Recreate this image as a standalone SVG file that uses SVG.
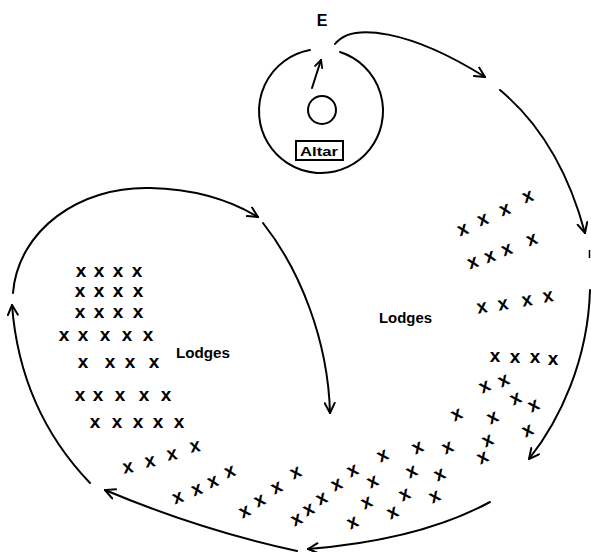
<svg xmlns="http://www.w3.org/2000/svg" width="591" height="552" viewBox="0 0 591 552">
<style>
.ln{fill:none;stroke:#000;stroke-width:2;stroke-linecap:round}
.lb{font-family:"Liberation Sans",Arial,sans-serif;font-weight:bold;fill:#000}
.m{font-family:"Liberation Sans",Arial,sans-serif;font-weight:bold;font-size:19px;fill:#000;text-anchor:middle}
</style>
<defs>
<marker id="ah" viewBox="0 0 12 12" refX="11" refY="6" markerWidth="12" markerHeight="12" orient="auto" markerUnits="userSpaceOnUse"><path d="M1,1 L11,6 L1,11" fill="none" stroke="#000" stroke-width="2" stroke-linecap="round" stroke-linejoin="miter"/></marker>
<marker id="ah2" viewBox="0 0 12 12" refX="11" refY="6" markerWidth="9" markerHeight="9" orient="auto" markerUnits="userSpaceOnUse"><path d="M1,1 L11,6 L1,11" fill="none" stroke="#000" stroke-width="2.4" stroke-linecap="round"/></marker>
</defs>
<rect width="591" height="552" fill="#fff"/>
<g id="temple">
<text class="lb" x="322" y="26" font-size="16" text-anchor="middle">E</text>
<path class="ln" d="M340,52 A62,62 0 1 1 310,50"/>
<circle cx="322" cy="110" r="14" class="ln"/>
<path class="ln" d="M312,88 L321,60" marker-end="url(#ah2)"/>
<rect x="296" y="141" width="47" height="19" fill="none" stroke="#000" stroke-width="2"/>
<text class="lb" x="300" y="155.5" font-size="13" textLength="38" lengthAdjust="spacingAndGlyphs">Altar</text>
</g>
<g id="connectors">
<path class="ln" d="M335,44 C352,22 410,30 485,77" marker-end="url(#ah)"/>
<path class="ln" d="M500,90 Q560,140 585,233" marker-end="url(#ah)"/>
<path class="ln" d="M590,290 C588,360 560,420 529,459" marker-end="url(#ah)"/>
<path class="ln" d="M490,502 Q420,540 308,549" marker-end="url(#ah)"/>
<path class="ln" d="M297,551 Q200,530 105,490" marker-end="url(#ah)"/>
<path class="ln" d="M90,483 Q20,410 12,305" marker-end="url(#ah)"/>
<path class="ln" d="M13,293 C18,230 80,186 150,188 C195,189 230,200 258,217" marker-end="url(#ah)"/>
<path class="ln" d="M263,223 C300,270 328,340 330,413" marker-end="url(#ah)"/>
<path d="M589.5,250 L589.5,258" stroke="#000" stroke-width="1.5"/>
</g>
<g id="lodges-left">
<text class="lb" x="176" y="358" font-size="14" textLength="54" lengthAdjust="spacingAndGlyphs">Lodges</text>
<text class="m" x="81" y="277">x</text><text class="m" x="99" y="277">x</text><text class="m" x="118" y="277">x</text><text class="m" x="137" y="277">x</text>
<text class="m" x="80" y="297">x</text><text class="m" x="99" y="297">x</text><text class="m" x="118" y="297">x</text><text class="m" x="138" y="297">x</text>
<text class="m" x="80" y="318">x</text><text class="m" x="99" y="318">x</text><text class="m" x="118" y="318">x</text><text class="m" x="138" y="318">x</text>
<text class="m" x="64" y="341">x</text><text class="m" x="83" y="341">x</text><text class="m" x="105" y="341">x</text><text class="m" x="127" y="341">x</text><text class="m" x="148" y="341">x</text>
<text class="m" x="83" y="368">x</text><text class="m" x="110" y="368">x</text><text class="m" x="130" y="368">x</text><text class="m" x="154" y="368">x</text>
<text class="m" x="80" y="401">x</text><text class="m" x="98" y="401">x</text><text class="m" x="120" y="401">x</text><text class="m" x="144" y="401">x</text><text class="m" x="166" y="401">x</text>
<text class="m" x="95" y="428">x</text><text class="m" x="117" y="428">x</text><text class="m" x="138" y="428">x</text><text class="m" x="158" y="428">x</text><text class="m" x="179" y="428">x</text>
<text class="m" x="128" y="473" transform="rotate(-10 128 468)">x</text><text class="m" x="150" y="467" transform="rotate(-10 150 462)">x</text><text class="m" x="172" y="460" transform="rotate(-10 172 455)">x</text><text class="m" x="195" y="452" transform="rotate(-10 195 447)">x</text>
<text class="m" x="178" y="503" transform="rotate(-20 178 498)">x</text><text class="m" x="197" y="495" transform="rotate(-20 197 490)">x</text><text class="m" x="213" y="487" transform="rotate(-20 213 482)">x</text><text class="m" x="230" y="477" transform="rotate(-20 230 472)">x</text>
<text class="m" x="245" y="517" transform="rotate(-25 245 512)">x</text><text class="m" x="260" y="506" transform="rotate(-25 260 501)">x</text><text class="m" x="277" y="493" transform="rotate(-25 277 488)">x</text><text class="m" x="296" y="478" transform="rotate(-25 296 473)">x</text>
<text class="m" x="297" y="525" transform="rotate(-25 297 520)">x</text><text class="m" x="309" y="515" transform="rotate(-25 309 510)">x</text><text class="m" x="322" y="504" transform="rotate(-25 322 499)">x</text><text class="m" x="337" y="490" transform="rotate(-25 337 485)">x</text><text class="m" x="353" y="476" transform="rotate(-25 353 471)">x</text>
</g>
<g id="lodges-right">
<text class="lb" x="379" y="323" font-size="14" textLength="53" lengthAdjust="spacingAndGlyphs">Lodges</text>
<text class="m" x="463" y="235" transform="rotate(-20 463 230)">x</text><text class="m" x="483" y="225" transform="rotate(-20 483 220)">x</text><text class="m" x="505" y="215" transform="rotate(-20 505 210)">x</text><text class="m" x="528" y="202" transform="rotate(-20 528 197)">x</text>
<text class="m" x="473" y="268" transform="rotate(-20 473 263)">x</text><text class="m" x="490" y="262" transform="rotate(-20 490 257)">x</text><text class="m" x="507" y="255" transform="rotate(-20 507 250)">x</text><text class="m" x="532" y="245" transform="rotate(-20 532 240)">x</text>
<text class="m" x="482" y="313" transform="rotate(-10 482 308)">x</text><text class="m" x="503" y="310" transform="rotate(-10 503 305)">x</text><text class="m" x="527" y="306" transform="rotate(-10 527 301)">x</text><text class="m" x="548" y="302" transform="rotate(-10 548 297)">x</text>
<text class="m" x="495" y="362">x</text><text class="m" x="515" y="363">x</text><text class="m" x="535" y="363">x</text><text class="m" x="553" y="365">x</text>
<text class="m" x="485" y="392" transform="rotate(-25 485 387)">x</text><text class="m" x="504" y="386" transform="rotate(-25 504 381)">x</text>
<text class="m" x="516" y="404" transform="rotate(-25 516 399)">x</text><text class="m" x="534" y="411" transform="rotate(-25 534 406)">x</text>
<text class="m" x="457" y="420" transform="rotate(-25 457 415)">x</text><text class="m" x="493" y="423" transform="rotate(-25 493 418)">x</text>
<text class="m" x="528" y="436" transform="rotate(-25 528 431)">x</text><text class="m" x="488" y="446" transform="rotate(-25 488 441)">x</text>
<text class="m" x="483" y="463" transform="rotate(-25 483 458)">x</text>
<text class="m" x="383" y="461" transform="rotate(-25 383 456)">x</text><text class="m" x="418" y="453" transform="rotate(-25 418 448)">x</text><text class="m" x="448" y="453" transform="rotate(-25 448 448)">x</text>
<text class="m" x="373" y="487" transform="rotate(-25 373 482)">x</text><text class="m" x="412" y="477" transform="rotate(-25 412 472)">x</text><text class="m" x="440" y="480" transform="rotate(-25 440 475)">x</text>
<text class="m" x="367" y="508" transform="rotate(-25 367 503)">x</text><text class="m" x="405" y="500" transform="rotate(-25 405 495)">x</text><text class="m" x="435" y="502" transform="rotate(-25 435 497)">x</text>
<text class="m" x="353" y="528" transform="rotate(-25 353 523)">x</text><text class="m" x="393" y="518" transform="rotate(-25 393 513)">x</text>
</g>
</svg>
